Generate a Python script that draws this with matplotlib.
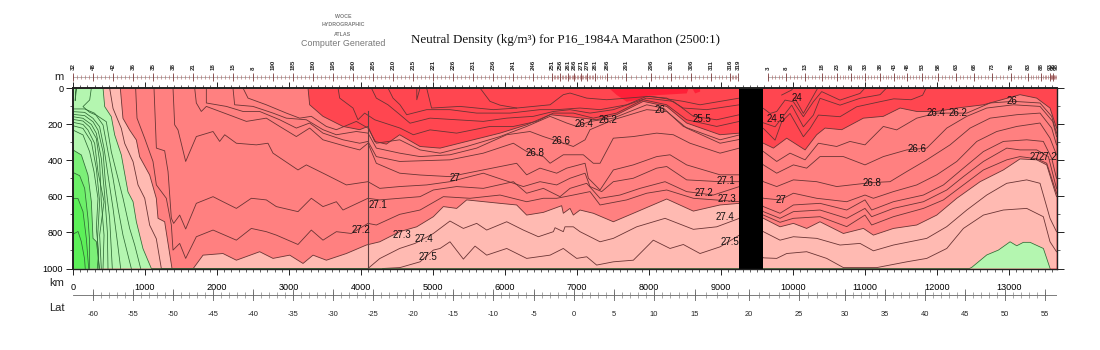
import numpy as np
import matplotlib
matplotlib.use("Agg")
import matplotlib.pyplot as plt
from matplotlib.ticker import MultipleLocator

plt.rcParams['font.family'] = ['Liberation Sans', 'DejaVu Sans']

# ---------- data: (distance km, depth m) along each neutral-density contour ----------
gamma_240a = [(9843,39),(9982,11),(10000,0)]
gamma_240b = [(10028,57),(10144,141),(10237,76),(10330,10),(10345,0)]
gamma_240c = [(4775,0),(4775,65),(4820,0)]
gamma_245 = [(4912,0),(4980,111),(5375,102),(5838,120),(6162,111),(6626,93),(6810,37),(6903,28),(7135,56),(7412,65),(8014,46),(8477,74),(8709,93),(9256,56)]
gamma_245b = [(5653,0),(5792,74),(5931,95),(6162,111)]
gamma_250 = [(4375,0),(4445,56),(4542,93),(4635,148),(4912,120),(5236,120),(5607,139),(6070,139),(6486,120),(6718,120),(7042,111),(7320,120),(7690,93),(7968,46),(8246,56),(8477,111),(8801,120),(9256,93),
             (9589,113),(9682,141),(9774,130),(9890,67),(10005,76),(10144,159),(10283,76),(10399,20),(10653,67),(10931,30),(11000,0)]
gamma_255 = [(4144,0),(4213,56),(4375,93),(4542,148),(4681,195),(4959,167),(5329,176),(5699,185),(6024,167),(6394,157),(6672,130),(6903,120),(7181,139),(7505,120),(7968,56),(8338,74),(8616,157),(8940,176),(9256,148),
             (9751,215),(9982,95),(10144,215),(10283,150),(10376,57),(10653,95),(10931,57),(11209,37),(11300,0)]
gamma_260 = [(3681,0),(3704,56),(3889,111),(3958,176),(4051,139),(4190,176),(4542,222),(4727,259),(4959,232),(5329,250),(5792,213),(6116,213),(6440,185),(6672,139),(6949,139),(7227,167),(7551,139),(7921,65),(8246,93),(8523,176),(8940,213),(9256,185),
             (9589,224),(9751,289),(9843,187),(9959,141),(10144,270),(10237,224),(10353,150),(10653,159),(10885,104),(11209,76),(11400,60),(11640,65),(11800,40),(11850,0)]
gamma_262 = [(3264,0),(3287,93),(3472,157),(3750,213),(3982,231),(4097,213),(4190,296),(4352,311),(4537,259),(4820,324),(5098,333),(5468,296),(5931,250),(6301,204),(6626,148),(6857,157),(7273,176),(7551,148),(7921,74),(8246,102),(8523,194),(8987,259),(9256,250),
             (9589,306),(9728,333),(9913,278),(10168,343),(10329,259),(10445,222),(10677,231),(10978,167),(11255,157),(11487,111),(11719,130),(11997,130),(12275,111),(12645,93),(13153,37),(13385,56),(13570,111),(13660,222)]
gamma_264 = [(2361,0),(2431,56),(2685,93),(2963,139),(3148,167),(3310,157),(3519,213),(3658,231),(3935,185),(4097,222),(4213,306),(4537,287),(4820,343),(5098,361),(5468,324),(5931,269),(6301,213),(6626,157),(6857,194),(6996,213),(7181,185),(7505,167),(7968,93),(8199,111),(8477,213),(8987,287),(9256,260),
             (9589,352),(9774,407),(9959,361),(10168,398),(10353,306),(10607,324),(10792,296),(11000,315),(11255,213),(11440,232),(11719,167),(11997,139),(12414,139),(12738,83),(13062,74),(13431,83),(13593,157),(13660,250)]
gamma_266 = [(2222,0),(2245,93),(2500,102),(2778,139),(2963,167),(3241,176),(3472,231),(3658,259),(3935,241),(4097,250),(4213,333),(4537,361),(4820,380),(5236,370),(5607,333),(6024,259),(6347,241),(6533,269),(6672,287),(6949,324),(7112,287),(7181,231),(7505,176),(7968,120),(8246,130),(8523,222),(8987,306),(9256,285),
             (9589,426),(9774,472),(10006,426),(10190,444),(10375,380),(10700,380),(11000,426),(11255,380),(11580,343),(11858,333),(12136,222),(12414,157),(12691,111),(13062,93),(13431,102),(13607,185),(13660,269)]
gamma_268 = [(1852,0),(1852,83),(2130,102),(2361,130),(2593,130),(2871,176),(3102,222),(3287,194),(3472,250),(3750,287),(3982,306),(4097,296),(4213,380),(4537,407),(5236,398),(5699,361),(6116,306),(6301,352),(6533,380),(6626,417),(6810,370),(7088,370),(7227,417),(7320,417),(7505,278),(7782,269),(8107,250),(8338,259),(8570,306),(8987,361),(9256,333),
             (9589,519),(9774,546),(10006,509),(10329,519),(10607,546),(11093,524),(11348,519),(11580,463),(11858,398),(12182,315),(12460,222),(12738,167),(13108,148),(13431,139),(13593,222),(13660,315)]
gamma_269 = [(1690,0),(1713,83),(1782,130),(1852,102),(2222,157),(2408,185),(2685,167),(2871,213),(3102,269),(3287,222),(3472,287),(3797,324),(3982,343),(4097,306),(4213,417),(4537,472),(4820,482),(5236,491),(5468,472),(6162,417),(6301,481),(6486,444),(6718,472),(6857,444),(7112,417),(7158,500),(7320,565),(7505,454),(7782,426),(8107,380),(8292,370),(8523,426),(8987,481),(9256,481),
             (9589,611),(9820,620),(10006,583),(10329,611),(10746,630),(11000,593),(11117,611),(11395,574),(11719,537),(11997,481),(12275,407),(12553,296),(12830,241),(13108,213),(13431,194),(13570,278),(13660,370)]
gamma_270 = [(1389,0),(1412,204),(1458,232),(1565,407),(1713,269),(1945,241),(2037,296),(2107,259),(2269,306),(2547,315),(2708,306),(2778,361),(3125,454),(3241,426),(3519,481),(3797,537),(4097,519),(4260,556),(4537,546),(4912,537),(5236,519),(5699,472),(6255,546),(6486,519),(6718,537),(6903,500),(7112,472),(7181,546),(7343,574),(7505,519),(7782,500),(8107,444),(8246,435),(8523,509),(8987,519),(9256,519),
             (9589,657),(9820,694),(10006,648),(10375,639),(10746,676),(11000,620),(11093,676),(11395,630),(11812,593),(12090,537),(12367,444),(12645,352),(12922,296),(13246,287),(13477,296),(13593,389),(13660,500)]
gamma_271 = [(1125,0),(1158,333),(1273,348),(1320,463),(1366,722),(1398,750),(1482,704),(1565,781),(1713,639),(1945,602),(2083,630),(2269,667),(2477,611),(2685,620),(2824,657),(3125,685),(3310,611),(3472,657),(3658,630),(3750,676),(4097,611),(4260,620),(4537,611),(4820,602),(5005,565),(5329,546),(5699,556),(6116,519),(6301,583),(6533,556),(6764,602),(6903,556),(7135,528),(7320,611),(7597,593),(7875,556),(8223,519),(8523,574),(8894,593),(9256,546),
             (9589,685),(9820,722),(10006,685),(10375,676),(10746,722),(11000,667),(11093,713),(11395,667),(11812,630),(12136,565),(12367,491),(12645,407),(12969,333),(13153,343),(13385,343),(13547,380),(13660,556)]
gamma_272 = [(870,0),(889,167),(995,278),(1111,407),(1158,537),(1296,611),(1366,759),(1389,898),(1482,861),(1565,944),(1713,824),(1945,787),(2269,843),(2477,778),(2685,796),(2824,815),(3125,867),(3310,787),(3472,843),(3658,796),(3866,806),(4097,750),(4213,759),(4537,700),(4820,676),(5144,602),(5514,611),(5931,593),(6301,630),(6533,611),(6718,611),(6949,593),(7181,574),(7320,648),(7690,620),(7968,583),(8246,565),(8616,611),(9256,630),
             (9589,704),(9820,744),(10006,722),(10375,713),(10746,768),(11000,704),(11093,759),(11395,713),(11812,667),(12090,620),(12367,537),(12645,454),(12969,398),(13153,380),(13385,392),(13524,417),(13660,583)]
gamma_273 = [(657,0),(694,168),(787,233),(880,288),(926,381),(1065,482),(1157,611),(1181,722),(1273,741),(1375,1000),(1670,1000),(1806,926),(2083,917),(2269,954),(2593,907),(2778,944),(3010,926),(3195,972),(3334,926),(3519,954),(3797,917),(4074,870),(4260,852),(4537,796),(4774,769),(5005,713),(5144,657),(5329,667),(5468,620),(5931,639),(6162,648),(6301,704),(6533,689),(6787,652),(6810,694),(6903,667),(6949,704),(7042,676),(7227,694),(7505,741),(7783,694),(8246,615),(8616,682),(8987,648),(9256,639),
             (9589,722),(9820,769),(10006,750),(10190,778),(10375,741),(10700,806),(10978,778),(11117,815),(11395,778),(11719,759),(11997,704),(12275,611),(12599,519),(12922,454),(13153,393),(13385,398),(13524,426),(13660,602)]
gamma_274 = [(509,0),(556,113),(671,224),(718,307),(834,408),(903,537),(996,611),(1065,760),(1157,835),(1227,1000),(4097,1000),(4260,945),(4537,889),(4750,861),(5005,806),(5236,737),(5422,778),(5607,750),(5746,787),(6024,741),(6255,787),(6464,824),(6672,796),(6695,774),(6810,796),(6833,769),(6949,769),(7042,796),(7320,852),(7505,833),(7829,769),(8223,722),(8616,783),(8941,769),(9256,722),
             (9589,796),(9820,843),(10006,824),(10329,833),(10653,870),(10931,861),(11117,902),(11395,870),(11858,833),(12136,768),(12414,676),(12691,593),(12969,528),(13246,509),(13431,528),(13570,722),(13660,796)]
gamma_275 = [(4300,1000),(4540,995),(4820,963),(5005,898),(5098,889),(5236,852),(5422,948),(5584,876),(5746,926),(6024,889),(6301,944),(6626,926),(6810,889),(6903,917),(6996,944),(7135,935),(7273,981),(7505,963),(7783,954),(8060,843),(8292,889),(8477,867),(8709,917),(8987,880),(9256,815),
             (9589,941),(9774,944),(9913,917),(10190,907),(10468,944),(10700,995),(11163,995),(11580,963),(11858,944),(12136,889),(12367,778),(12645,704),(12922,676),(13246,667),(13477,713),(13570,852),(13660,907)]
gamma_276 = [(417,0),(440,103),(532,159),(579,260),(671,371),(764,576),(834,630),(880,741),(972,890),(1088,1000),(12450,1000),(12482,994),(12691,925),(12853,898),(13015,852),(13108,874),(13200,855),(13293,855),(13478,889),(13571,1000)]
gamma_277 = [(255,0),(232,66),(139,103),(232,135),(324,150),(463,187),(532,353),(602,464),(695,611),(787,778),(857,870),(940,1000)]
gamma_278 = [(0,116),(162,116),(301,140),(417,205),(486,353),(556,500),(625,667),(694,815),(810,1000)]
gamma_279 = [(0,131),(162,135),(278,168),(370,215),(431,334),(486,482),(556,667),(616,852),(662,1000)]
gamma_280 = [(0,146),(162,153),(278,187),(347,233),(417,353),(449,519),(509,722),(546,1000)]
gamma_281 = [(0,159),(139,168),(255,202),(324,251),(393,390),(440,593),(477,796),(486,1000)]
gamma_282 = [(0,174),(139,183),(231,215),(324,279),(370,408),(393,630),(431,815),(417,1000)]
gamma_283 = [(0,190),(139,202),(208,233),(301,307),(347,464),(431,630),(370,815),(393,1000)]
gamma_284 = [(0,209),(139,224),(255,298),(324,445),(370,630),(338,851),(361,1000)]
gamma_285 = [(0,233),(139,260),(231,353),(292,464),(347,612),(324,778),(356,907),(338,1000)]
gamma_286 = [(0,343),(116,371),(208,482),(255,630),(278,833),(324,851),(370,1000)]
gamma_287 = [(0,468),(93,486),(162,556),(208,722),(231,851),(231,1000)]
gamma_288 = [(0,612),(69,612),(139,685),(185,833),(218,1000)]
gamma_289 = [(0,810),(70,795),(115,850),(160,945),(170,1000)]
gamma_small = [(40,0),(30,70),(50,0)]
gamma_patch_a = [(7459,0),(7459,6),(7552,39),(7691,76),(7830,67),(7968,43),(8524,30),(8547,6),(8547,0)]
gamma_patch_b = [(8608,0),(8608,6),(8641,30),(8710,20),(8710,0)]
vertical_km = [4100,4100]
vertical_m = [130,1000]
gap_km = [9250,9585]

label_texts = ['24','24.5','26','25.5','26.2','26.4','26.6','26.8','27','27.1','27.2','27.3','27.4','27.5',
               '27.1','27.2','27.3','27.4','27.5','26.6','26.8','27','26.4','26.2','26','27','27.2']
label_km = [10055,9764,8153,8736,7431,7097,6778,6417,5305,4236,4000,4569,4875,4930,
            9069,8764,9083,9056,9125,11722,11097,9833,11985,12290,13042,13365,13545]
label_m = [55,172,122,172,177,199,294,360,499,648,787,814,837,936,
           515,582,615,715,853,338,526,620,138,138,72,382,382]

station_labels = ['32','48','42','36','35','38','21','18','15','8','190','185','180','195','200','205','210',
                  '215','221','226','231','236','241','246','251','256','261','266','271','276','281','286','291','296','301','306','311','316','319',
                  '3','8','13','18','23','28','33','38','43','48','53','58','63','68','73','78','83','88','93','96','98']
station_km = [0,278,556,833,1111,1389,1667,1944,2222,2500,2778,3056,3333,3611,3889,4167,4444,
              4722,5000,5278,5556,5833,6111,6389,6653,6764,6875,6958,7056,7139,7250,7417,7681,8028,8306,8583,8861,9125,9236,
              9653,9903,10167,10403,10611,10806,11000,11208,11403,11583,11792,12014,12264,12514,12764,13028,13264,13444,13569,13611,13660]
lat_values = [-60,-55,-50,-45,-40,-35,-30,-25,-20,-15,-10,-5,0,5,10,15,20,25,30,35,40,45,50,55]
lat_km = [278,833,1389,1944,2500,3056,3611,4167,4722,5278,5833,6403,6958,7514,8069,8639,9389,10083,10722,11278,11833,12389,12944,13500]

XMAX, YMAX = 13660, 1000
C_DEEP, C_DARK, C_RED, C_PINK, C_G1, C_G2, C_G3, C_G4 = '#ff2038','#ff4650','#ff8080','#ffbab2','#b4f6b0','#7cf078','#6cf068','#5cf058'

W, H = 1100, 350
fig = plt.figure(figsize=(W/100, H/100), dpi=100)
def rect(l, r, t, b):
    return [l/W, 1-b/H, (r-l)/W, (b-t)/H]
ax = fig.add_axes(rect(73, 1056.5, 88, 268.5))
ax.set_xlim(0, XMAX); ax.set_ylim(YMAX, 0)
ax.set_facecolor(C_DARK)

def fill_below(path, color, z):
    xs = [p[0] for p in path]; ys = [p[1] for p in path]
    ax.fill(xs + [xs[-1], 0, 0], ys + [YMAX, YMAX, ys[0]], color=color, lw=0, zorder=z)

for patch in (gamma_patch_a, gamma_patch_b):
    ax.fill(*zip(*patch), color=C_DEEP, lw=0, zorder=1)
fill_below(gamma_262, C_RED, 2)
fill_below(gamma_273, C_PINK, 3)
fill_below(gamma_276, C_G1, 4)
fill_below(gamma_286, C_G2, 5)
fill_below(gamma_287, C_G3, 6)
fill_below(gamma_288, C_G4, 7)

red_lines = [gamma_240a,gamma_240b,gamma_240c,gamma_245,gamma_245b,gamma_250,gamma_255,gamma_260,gamma_262,gamma_264,
             gamma_266,gamma_268,gamma_269,gamma_270,gamma_271,gamma_272,gamma_273,gamma_274,gamma_275]
green_lines = [gamma_276,gamma_277,gamma_278,gamma_279,gamma_280,gamma_281,gamma_282,gamma_283,gamma_284,gamma_285,
               gamma_286,gamma_287,gamma_288,gamma_289,gamma_small]
for line in red_lines:
    ax.plot(*zip(*line), color='#6a3434', lw=0.6, zorder=8, solid_joinstyle='round')
for line in green_lines:
    ax.plot(*zip(*line), color='#2f6b35', lw=0.55, zorder=8, solid_joinstyle='round')
ax.plot(vertical_km, vertical_m, color='#604040', lw=0.8, zorder=8)
ax.axvspan(gap_km[0], gap_km[1], color='black', lw=0, zorder=9)

for t, x, y in zip(label_texts, label_km, label_m):
    ax.text(x, y, t, fontsize=7.0, ha='center', va='center', color='#111111', zorder=10)

ax.xaxis.set_major_locator(MultipleLocator(1000)); ax.xaxis.set_minor_locator(MultipleLocator(100))
ax.yaxis.set_major_locator(MultipleLocator(200)); ax.yaxis.set_minor_locator(MultipleLocator(100))
ax.tick_params(which='major', axis='x', top=True, bottom=True, length=4.5, width=0.7, labelsize=6.6, pad=6, color='#222222')
ax.tick_params(which='minor', axis='x', top=True, bottom=True, length=2, width=0.5, color='#222222')
ax.tick_params(which='major', axis='y', left=True, right=True, length=5, width=0.7, labelsize=6.6, pad=2, color='#222222')
ax.tick_params(which='minor', axis='y', left=True, right=True, length=2.5, width=0.5, color='#222222')
for s in ax.spines.values():
    s.set_linewidth(1.0); s.set_color('#222222'); s.set_zorder(12)
ax.spines['left'].set_linewidth(1.4); ax.spines['top'].set_linewidth(1.4)

# station strip
st = fig.add_axes(rect(73, 1056.5, 72, 82))
st.set_xlim(0, XMAX); st.set_ylim(0, 1); st.axis('off')
left_n = 39
for seg_km in (station_km[:left_n], station_km[left_n:]):
    st.plot([seg_km[0], seg_km[-1]], [.5, .5], color='#999999', lw=0.5)
    minor = np.concatenate([np.linspace(a, b, 5, endpoint=False) for a, b in zip(seg_km[:-1], seg_km[1:])])
    st.vlines(minor, .32, .68, color='#b06a6a', lw=0.45)
    st.vlines(seg_km, .1, .9, color='#804040', lw=0.6)
for t, x in zip(station_labels, station_km):
    st.text(x, 1.15, t, rotation=90, fontsize=4.4, fontweight='bold', ha='center', va='bottom', color='#222222', clip_on=False)

# latitude strip
la = fig.add_axes(rect(73, 1056.5, 289, 301))
la.set_xlim(0, XMAX); la.set_ylim(0, 1); la.axis('off')
la.plot([0, XMAX], [.5, .5], color='#666666', lw=0.6)
deg = np.arange(-63, 56)
la.vlines(np.interp(deg, lat_values, lat_km, left=np.nan), .25, .75, color='#777777', lw=0.45)
la.vlines(lat_km, 0, 1, color='#666666', lw=0.6)
for v, x in zip(lat_values, lat_km):
    la.text(x, -.8, str(v), fontsize=5.4, ha='center', va='top', color='#222222', clip_on=False)

def ptext(x, y, s, **kw):
    fig.text(x/W, 1-y/H, s, **kw)
ptext(59, 77, 'm', fontsize=8, ha='center', va='center', color='#222222')
ptext(57, 283, 'km', fontsize=8, ha='center', va='center', color='#222222')
ptext(57, 308, 'Lat', fontsize=8, ha='center', va='center', color='#222222')
ptext(565.5, 40, 'Neutral Density (kg/m³) for P16_1984A Marathon (2500:1)', fontsize=9.4,
      family=['Liberation Serif', 'DejaVu Serif'], ha='center', va='center', color='#111111')
ptext(343, 16.5, 'WOCE', fontsize=3.8, fontweight='bold', ha='center', va='center', color='#808080')
ptext(343, 25, 'HYDROGRAPHIC', fontsize=3.8, fontweight='bold', ha='center', va='center', color='#808080')
ptext(343, 34, 'ATLAS', fontsize=3.8, fontweight='bold', ha='center', va='center', color='#808080')
ptext(343, 43, 'Computer Generated', fontsize=6.4, ha='center', va='center', color='#777777')

fig.savefig('out.png', dpi=100)
